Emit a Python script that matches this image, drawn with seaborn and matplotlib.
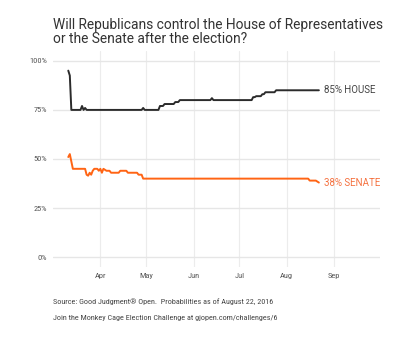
import matplotlib
matplotlib.use("Agg")
import matplotlib.pyplot as plt
import matplotlib.dates as mdates
from matplotlib import font_manager
import seaborn as sns
import pandas as pd

house_dates = ["2016-03-11", "2016-03-12", "2016-03-13", "2016-03-19", "2016-03-20",
               "2016-03-21", "2016-03-22", "2016-03-23", "2016-04-28", "2016-04-29",
               "2016-04-30", "2016-05-09", "2016-05-10", "2016-05-12", "2016-05-13",
               "2016-05-19", "2016-05-20", "2016-05-22", "2016-05-23", "2016-06-12",
               "2016-06-13", "2016-06-14", "2016-07-09", "2016-07-10", "2016-07-11",
               "2016-07-12", "2016-07-15", "2016-07-16", "2016-07-17", "2016-07-18",
               "2016-07-24", "2016-07-25", "2016-08-22"]
house_values = [95, 92.5, 75, 75, 77, 75, 76, 75, 75, 76,
                75, 75, 77, 77, 78, 78, 79, 79, 80, 80,
                81, 80, 80, 81.5, 81.5, 82, 82, 83, 83, 84,
                84, 85, 85]

senate_dates = ["2016-03-11", "2016-03-12", "2016-03-14", "2016-03-22", "2016-03-23",
                "2016-03-24", "2016-03-25", "2016-03-26", "2016-03-27", "2016-03-28",
                "2016-03-30", "2016-03-31", "2016-04-01", "2016-04-02", "2016-04-03",
                "2016-04-05", "2016-04-07", "2016-04-08", "2016-04-13", "2016-04-14",
                "2016-04-18", "2016-04-19", "2016-04-25", "2016-04-26", "2016-04-28",
                "2016-04-29", "2016-08-15", "2016-08-16", "2016-08-20", "2016-08-22"]
senate_values = [51, 52.5, 45, 45, 42, 41.5, 43, 42, 44, 45,
                 45, 44, 45, 43, 45, 44, 44, 43, 43, 44,
                 44, 43, 43, 42, 42, 40, 40, 39, 39, 38]

series_names = ["House", "Senate"]
end_labels = ["85% HOUSE", "38% SENATE"]
month_ticks = ["2016-04-01", "2016-05-01", "2016-06-01", "2016-07-01", "2016-08-01", "2016-09-01"]
y_ticks = [0, 25, 50, 75, 100]
y_tick_labels = ["0%", "25%", "50%", "75%", "100%"]

title = "Will Republicans control the House of Representatives\nor the Senate after the election?"
caption1 = "Source: Good Judgment\u00ae Open.  Probabilities as of August 22, 2016"
caption2 = "Join the Monkey Cage Election Challenge at gjopen.com/challenges/6"

df = pd.concat([
    pd.DataFrame({"date": pd.to_datetime(house_dates), "prob": house_values, "chamber": series_names[0]}),
    pd.DataFrame({"date": pd.to_datetime(senate_dates), "prob": senate_values, "chamber": series_names[1]}),
])

sns.set_theme(style="whitegrid")
available = {f.name for f in font_manager.fontManager.ttflist}
main_font = "Roboto" if "Roboto" in available else "DejaVu Sans"
cond_font = main_font
for cand in ["Roboto Condensed", "Liberation Sans Narrow", "DejaVu Sans Condensed"]:
    if cand in available:
        cond_font = cand
        break
plt.rcParams["font.family"] = [main_font, "DejaVu Sans"]

line_colors = {"House": "#2b2b2b", "Senate": "#ff6414"}
label_colors = ["#444444", "#f5713f"]

fig = plt.figure(figsize=(4.0, 3.43), dpi=100)
ax = fig.add_axes([0.1325, 0.2216, 0.8175, 0.6297])
sns.lineplot(data=df, x="date", y="prob", hue="chamber", palette=line_colors,
             linewidth=1.4, ax=ax, legend=False)

ax.set_xlim(pd.Timestamp("2016-03-01"), pd.Timestamp("2016-10-01"))
ax.set_ylim(-5, 105)
ax.set_xticks(pd.to_datetime(month_ticks))
ax.xaxis.set_major_formatter(mdates.DateFormatter("%b"))
ax.set_yticks(y_ticks)
ax.set_yticklabels(y_tick_labels)
ax.set_xlabel("")
ax.set_ylabel("")
for s in ax.spines.values():
    s.set_visible(False)
ax.set_facecolor("white")
ax.grid(True, axis="y", color="#e6e6e6", linewidth=1.0)
ax.grid(True, axis="x", color="#ececec", linewidth=0.8)
ax.tick_params(axis="both", length=0, labelsize=6, colors="#555555", pad=4)
for lab in ax.get_xticklabels() + ax.get_yticklabels():
    lab.set_family([cond_font, "DejaVu Sans"])

last_dates = [pd.Timestamp(house_dates[-1]), pd.Timestamp(senate_dates[-1])]
last_vals = [house_values[-1], senate_values[-1]]
for d, v, txt, c in zip(last_dates, last_vals, end_labels, label_colors):
    ax.annotate(txt, xy=(d, v), xytext=(4, 0), textcoords="offset points",
                ha="left", va="center", fontsize=7, color=c)

fig.text(53 / 400, 1 - 18 / 343, title, ha="left", va="top", fontsize=9.9,
         color="#333333", linespacing=1.0)
fig.text(53 / 400, 1 - 302 / 343, caption1, ha="left", va="center", fontsize=5.9,
         color="#444444", family=[cond_font, "DejaVu Sans"])
fig.text(53 / 400, 1 - 318 / 343, caption2, ha="left", va="center", fontsize=5.9,
         color="#444444", family=[cond_font, "DejaVu Sans"])

fig.savefig("out.png", dpi=100, facecolor="white")
